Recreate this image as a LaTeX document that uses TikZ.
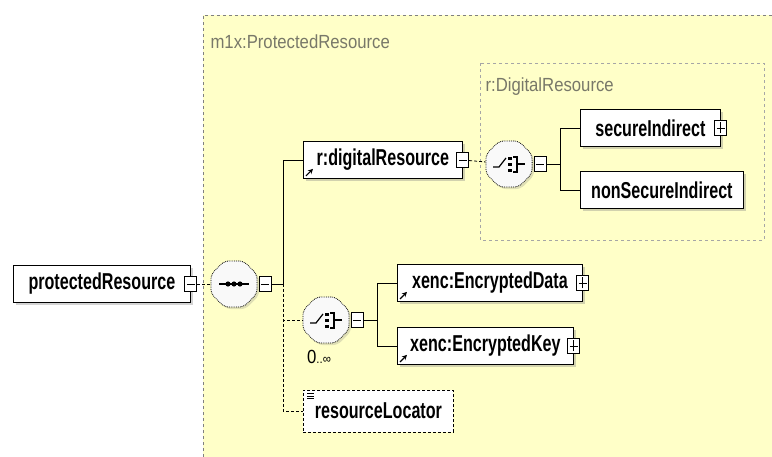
\documentclass[tikz,border=0pt]{standalone}
\usepackage{fontspec}
\setmainfont[FakeStretch=0.7]{Liberation Sans}
\newfontfamily\labelfont[FakeStretch=0.88]{Liberation Sans}
\usepackage{tikz}
\usetikzlibrary{positioning,shadows,shapes.geometric,arrows.meta}
\definecolor{schemabg}{RGB}{255,255,200}
\definecolor{grouptext}{RGB}{120,120,105}

\begin{document}
\begin{tikzpicture}[x=1pt,y=-1pt,
  font=\fontsize{23}{25}\selectfont\bfseries,
  elem/.style={draw,thick,fill=white,minimum height=37,inner xsep=6,anchor=west,
    drop shadow={shadow xshift=3pt,shadow yshift=-3pt,opacity=.35,fill=gray}},
  attrbox/.style={draw,densely dashed,thick,fill=white,minimum height=42,inner xsep=6,anchor=west},
  comp/.style={regular polygon,regular polygon sides=8,minimum size=50,inner sep=0,
    rounded corners=5pt,draw,densely dotted,thick,fill=gray!5,
    drop shadow={shadow xshift=2pt,shadow yshift=-2pt,opacity=.25,fill=gray}},
  minus/.style={draw,thick,fill=white,minimum width=12,minimum height=15,inner sep=0,
    path picture={\draw[thick] ([xshift=2pt]path picture bounding box.west) -- ([xshift=-2pt]path picture bounding box.east);}},
  plus/.style={minus,path picture={
    \draw[thick] ([xshift=2pt]path picture bounding box.west) -- ([xshift=-2pt]path picture bounding box.east);
    \draw[thick] ([yshift=2pt]path picture bounding box.south) -- ([yshift=-2pt]path picture bounding box.north);}},
  grouplabel/.style={anchor=west,text=grouptext,font=\labelfont\fontsize{19}{21}\selectfont},
  seqsym/.pic={\draw[very thick] (-15,0) -- (15,0);
    \foreach \d in {-6,0,6} \fill (\d,0) circle (2.6);},
  choicesym/.pic={\draw[very thick] (-16,3) -- (-10,3) -- (-3,-6);
    \foreach \d in {-7,-1,5} \fill (-1,\d) rectangle ++(3.5,3.5);
    \draw[very thick] (4,-7) -- (8,-7) -- (8,8) -- (4,8) (8,0) -- (16,0);},
  ref/.style={-{Stealth[length=5pt,width=5pt]},very thick}]

  \useasboundingbox (0,0) rectangle (772,457);

  % schema area and groups
  \fill[schemabg] (203,15) rectangle (772,457);
  \draw[dashed,gray,thick] (203,457) |- (772,15);
  \draw[dashed,gray!70,thick] (480,63) rectangle (764,240);
  \node[grouplabel] (outerLbl) at (207,42) {m1x:ProtectedResource};
  \node[grouplabel] (innerLbl) at (482,87) {r:DigitalResource};

  % root element and sequence
  \node[elem,minimum width=177] (protRes) at (13,284) {protectedResource};
  \node[minus] (protResM) at (protRes.east) {};
  \node[comp] (seq) at (234,284) {};
  \pic at (seq) {seqsym};
  \node[minus,right=1pt of seq] (seqM) {};
  \coordinate (trunk) at (283,284);

  % r:digitalResource branch
  \node[elem,minimum width=159] (digRes) at (303,160) {r:digitalResource};
  \node[minus] (digResM) at (digRes.east) {};
  \node[comp] (choiceA) at (509,164) {};
  \pic at (choiceA) {choicesym};
  \node[minus,right=1pt of choiceA] (choiceAM) {};
  \coordinate (forkA) at (560,164);
  \node[elem,minimum width=140] (secInd) at (580,128) {secureIndirect};
  \node[plus] (secIndP) at (secInd.east) {};
  \node[elem,minimum width=163] (nonSecInd) at (580,190) {nonSecureIndirect};

  % encrypted content
  \node[comp] (choiceB) at (326,320) {};
  \pic at (choiceB) {choicesym};
  \node[minus,right=1pt of choiceB] (choiceBM) {};
  \node[font=\labelfont\fontsize{19}{19}\selectfont] (occurs) at (319,357) {0{\fontsize{13}{13}\selectfont..∞}};
  \coordinate (forkB) at (377,320);
  \node[elem,minimum width=185] (encData) at (397,283) {xenc:EncryptedData};
  \node[plus] (encDataP) at (encData.east) {};
  \node[elem,minimum width=176] (encKey) at (397,346) {xenc:EncryptedKey};
  \node[plus] (encKeyP) at (encKey.east) {};

  % optional locator
  \node[attrbox,minimum width=150] (resLoc) at (303,411) {resourceLocator};
  \foreach \k in {0,2.5,5}
    \draw[semithick] ([shift={(4,4+\k)}]resLoc.north west) -- ++(7,0);

  % reference marks
  \foreach \n in {digRes,encData,encKey}
    \draw[ref] ([shift={(3,-3)}]\n.south west) -- ++(7,-7);

  % connectors
  \draw[densely dashed,thick] (protResM) -- (seq);
  \draw[thick] (seqM) -- (trunk) |- (digRes.west);
  \draw[densely dashed,thick] (trunk) |- (choiceB.west);
  \draw[densely dashed,thick] (trunk) |- (resLoc.west);
  \draw[densely dashed,thick] (digResM) -- (choiceA);
  \draw[thick] (choiceAM) -- (forkA) |- (secInd.west);
  \draw[thick] (forkA) |- (nonSecInd.west);
  \draw[thick] (choiceBM) -- (forkB) |- (encData.west);
  \draw[thick] (forkB) |- (encKey.west);
\end{tikzpicture}
\end{document}
